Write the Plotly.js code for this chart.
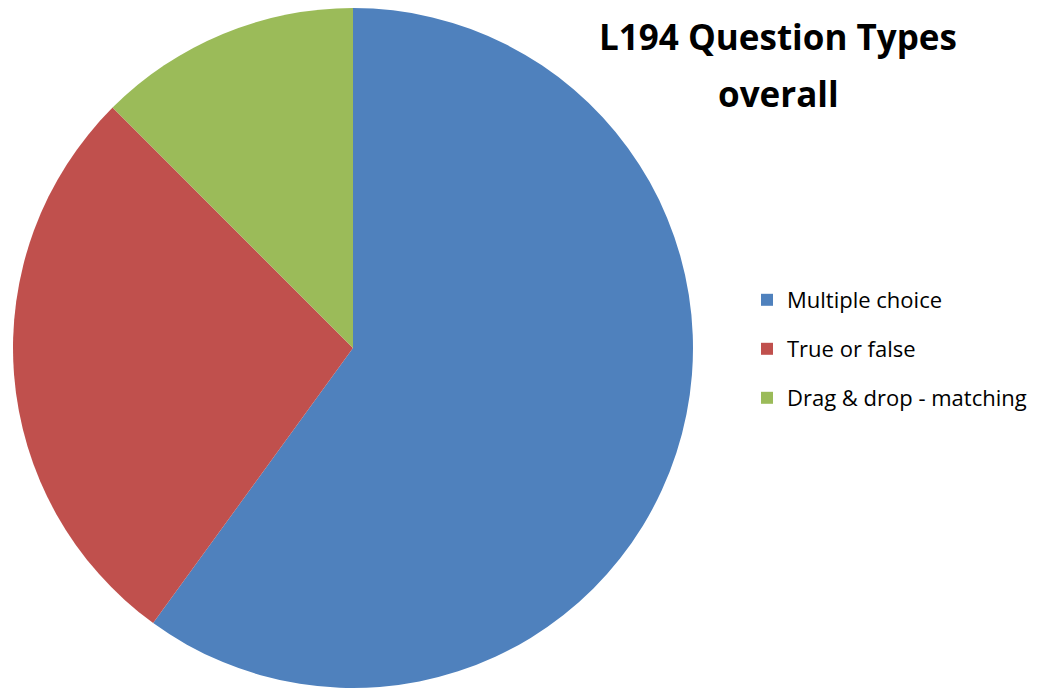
<!DOCTYPE html>
<html>
<head>
<meta charset="utf-8">
<script src="https://cdn.plot.ly/plotly-3.0.1.min.js"></script>
<style>html,body{margin:0;padding:0;background:#fff;}#chart{width:1044px;height:689px;}</style>
</head>
<body>
<div id="chart"></div>
<script>
const categories = ["Multiple choice", "True or false", "Drag & drop - matching"];
const counts = [24, 11, 5];
const sliceColors = ["#4F81BD", "#C0504D", "#9BBB59"];
const titleLine1 = "L194 Question Types";
const titleLine2 = "overall";

const W = 1044, H = 689;
const FONT = "'Open Sans', Lato, sans-serif";
const LEGEND_SIZE = 22;

const pie = {
  type: "pie",
  labels: categories,
  values: counts,
  sort: false,
  direction: "clockwise",
  rotation: 0,
  textinfo: "none",
  hoverinfo: "label+value+percent",
  marker: {colors: sliceColors, line: {width: 0}},
  domain: {x: [13 / W, 693 / W], y: [1 / H, 1 - 8 / H]},
  showlegend: false
};

// legend entries for the pie's categories (one legend group each, so they can be spaced apart)
const legendEntries = categories.map((name, i) => ({
  type: "scatter",
  mode: "markers",
  x: [null], y: [null],
  name: name,
  legendgroup: "cat" + i,
  marker: {symbol: "square", size: 12, color: sliceColors[i]},
  hoverinfo: "skip",
  showlegend: true
}));

const layout = {
  width: W, height: H,
  margin: {l: 0, r: 0, t: 0, b: 0},
  paper_bgcolor: "#fff",
  plot_bgcolor: "rgba(0,0,0,0)",
  font: {family: FONT, color: "#000"},
  xaxis: {visible: false, fixedrange: true},
  yaxis: {visible: false, fixedrange: true},
  title: {
    text: "<b>" + titleLine1 + "</b>",
    font: {size: 35, family: FONT, color: "#000"},
    x: 778 / W, xanchor: "center", xref: "paper",
    y: 1 - 38 / H, yanchor: "middle", yref: "container"
  },
  annotations: [{
    text: "<b>" + titleLine2 + "</b>",
    font: {size: 35, family: FONT, color: "#000"},
    x: 778 / W, xref: "paper", xanchor: "center",
    y: 1 - 94 / H, yref: "paper", yanchor: "middle",
    showarrow: false
  }],
  legend: {
    x: 747 / W, xanchor: "left",
    y: 1 - 349 / H, yanchor: "middle",
    traceorder: "grouped",
    tracegroupgap: 49 - (1.3 * LEGEND_SIZE + 3),
    font: {size: LEGEND_SIZE, family: FONT, color: "#000"},
    bgcolor: "rgba(0,0,0,0)"
  }
};

Plotly.newPlot("chart", [pie].concat(legendEntries), layout, {displayModeBar: false});
</script>
</body>
</html>
